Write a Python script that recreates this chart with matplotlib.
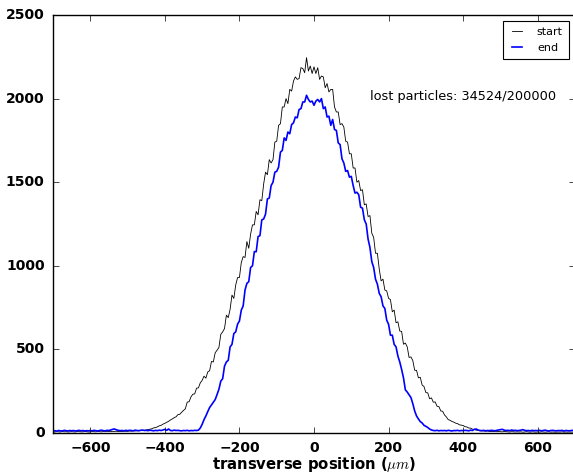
import numpy as np
import matplotlib
matplotlib.use("Agg")
import matplotlib.pyplot as plt

plt.style.use("classic")

# bin centres (transverse position, um)
positions = np.arange(-700, 705, 5)

# particle counts per bin, start of line
start_counts = [
    7, 6, 8, 7, 6, 9, 7, 8, 6, 7,
    8, 7, 6, 9, 8, 7, 7, 9, 8, 6,
    7, 9, 8, 7, 10, 8, 7, 9, 8, 10,
    9, 8, 10, 9, 11, 8, 10, 9, 11, 10,
    10, 12, 11, 13, 12, 14, 13, 15, 14, 16,
    18, 21, 23, 25, 31, 32, 37, 43, 46, 53,
    58, 64, 70, 78, 84, 92, 97, 110, 112, 124,
    135, 145, 185, 187, 216, 232, 234, 268, 270, 300,
    315, 340, 328, 365, 372, 428, 425, 480, 495, 512,
    590, 605, 625, 705, 690, 740, 825, 805, 885, 930,
    930, 1020, 1055, 1050, 1145, 1105, 1190, 1245, 1245, 1325,
    1305, 1395, 1390, 1490, 1560, 1545, 1635, 1615, 1635, 1740,
    1745, 1840, 1850, 1950, 1950, 2000, 1970, 2055, 2045, 2105,
    2130, 2115, 2120, 2185, 2180, 2155, 2245, 2165, 2195, 2150,
    2190, 2150, 2185, 2115, 2135, 2130, 2065, 2090, 2040, 2055,
    2055, 1950, 1920, 1920, 1845, 1850, 1830, 1745, 1740, 1670,
    1670, 1585, 1585, 1500, 1510, 1450, 1455, 1365, 1370, 1295,
    1300, 1195, 1170, 1075, 1075, 980, 910, 920, 855, 850,
    805, 798, 725, 735, 660, 665, 610, 608, 531, 538,
    515, 452, 455, 433, 375, 375, 330, 333, 287, 278,
    242, 240, 205, 210, 184, 186, 160, 158, 132, 130,
    108, 96, 80, 76, 69, 65, 59, 56, 49, 47,
    45, 38, 36, 30, 29, 23, 21, 17, 16, 13,
    13, 12, 11, 12, 10, 9, 9, 10, 8, 9,
    8, 7, 9, 8, 7, 6, 8, 7, 6, 7,
    6, 7, 5, 6, 8, 6, 5, 7, 6, 5,
    6, 5, 7, 6, 5, 6, 7, 5, 6, 5,
    5, 6, 5, 7, 5, 6, 5, 6, 5, 6,
    5,
]

# particle counts per bin, end of line
end_counts = [
    12, 14, 11, 15, 13, 12, 16, 14, 12, 15,
    13, 15, 12, 14, 16, 13, 15, 12, 14, 13,
    15, 13, 16, 14, 12, 15, 17, 14, 13, 16,
    15, 18, 22, 24, 19, 16, 14, 15, 13, 16,
    14, 16, 15, 13, 17, 15, 14, 16, 18, 15,
    16, 14, 17, 15, 13, 16, 14, 17, 15, 18,
    22, 16, 24, 15, 14, 17, 15, 16, 14, 13,
    15, 14, 16, 13, 15, 14, 16, 15, 17, 30,
    52, 80, 102, 128, 152, 168, 185, 200, 230, 262,
    310, 325, 400, 425, 435, 515, 530, 595, 605, 651,
    670, 735, 760, 855, 895, 905, 990, 1000, 1085, 1084,
    1175, 1180, 1275, 1280, 1309, 1400, 1405, 1480, 1500, 1560,
    1565, 1590, 1680, 1690, 1765, 1750, 1800, 1790, 1845, 1855,
    1890, 1885, 1935, 1940, 1980, 1980, 2020, 1995, 1980, 1985,
    1960, 1985, 1995, 1980, 2000, 1940, 1950, 1890, 1895, 1840,
    1875, 1815, 1810, 1735, 1725, 1640, 1615, 1565, 1570, 1530,
    1535, 1480, 1435, 1440, 1425, 1350, 1345, 1275, 1250, 1160,
    1110, 1025, 990, 920, 890, 835, 815, 760, 745, 675,
    650, 585, 585, 530, 515, 460, 425, 380, 330, 258,
    245, 228, 212, 175, 132, 102, 84, 68, 60, 46,
    40, 33, 24, 18, 15, 14, 16, 13, 15, 14,
    15, 13, 16, 14, 12, 15, 14, 16, 13, 15,
    14, 16, 15, 13, 17, 15, 22, 24, 18, 15,
    14, 16, 13, 15, 14, 16, 15, 13, 16, 18,
    20, 22, 17, 15, 16, 14, 18, 15, 16, 14,
    15, 17, 20, 16, 14, 15, 13, 16, 14, 15,
    14, 16, 13, 15, 17, 14, 12, 15, 16, 14,
    13, 15, 14, 16, 12, 15, 14, 13, 15, 16,
    14,
]

series_labels = ["start", "end"]
annotation = "lost particles: 34524/200000"
x_label = r"transverse position ($\mu m$)"
x_ticks = [-600, -400, -200, 0, 200, 400, 600]
y_ticks = [0, 500, 1000, 1500, 2000, 2500]

fig = plt.figure(figsize=(5.73, 4.75), dpi=100, facecolor="white")
ax = fig.add_axes([0.0925, 0.0884, 0.911, 0.88])
ax.set_facecolor("white")

ax.plot(positions, start_counts, color="black", lw=0.6, label=series_labels[0])
ax.plot(positions, end_counts, color="blue", lw=1.2, label=series_labels[1])

ax.set_xlim(-700, 700)
ax.set_ylim(0, 2500)
ax.set_xticks(x_ticks)
ax.set_yticks(y_ticks)
for lab in ax.get_xticklabels() + ax.get_yticklabels():
    lab.set_fontsize(10)
    lab.set_fontweight("bold")
ax.tick_params(direction="in", length=4, width=0.5, top=True, right=True, pad=6)

ax.set_xlabel(x_label, fontsize=10.7, fontweight="bold", labelpad=0)

ax.text(150, 1990, annotation, fontsize=9.3, ha="left", va="baseline")

leg = ax.legend(loc="upper right", bbox_to_anchor=(0.9885, 0.9856), borderaxespad=0,
                fontsize=8, handlelength=1.5, frameon=True, fancybox=False,
                borderpad=0.55, labelspacing=0.5, handletextpad=1.0)
leg.get_frame().set_edgecolor("black")
leg.get_frame().set_linewidth(0.8)

fig.savefig("out.png", dpi=100, facecolor="white")
